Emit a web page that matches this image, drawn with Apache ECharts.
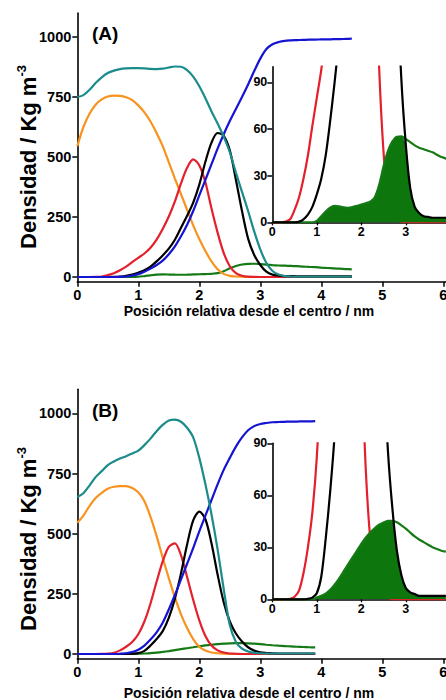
<!DOCTYPE html>
<html>
<head>
<meta charset="utf-8">
<script src="https://cdn.jsdelivr.net/npm/echarts@6/dist/echarts.min.js"></script>
<style>
  html, body { margin: 0; padding: 0; overflow: hidden; background: #ffffff; }
  #chart { width: 520px; height: 700px; }
</style>
</head>
<body>
<div id="chart"></div>
<script>
// Density profiles (kg m^-3) against distance from the centre (nm)
// Panel (A)
const xA = [0.0, 0.1, 0.2, 0.3, 0.4, 0.5, 0.6, 0.7, 0.8, 0.9,
            1.0, 1.1, 1.2, 1.3, 1.4, 1.5, 1.6, 1.7, 1.8, 1.9,
            2.0, 2.1, 2.2, 2.3, 2.4, 2.5, 2.6, 2.7, 2.8, 2.9,
            3.0, 3.1, 3.2, 3.3, 3.4, 3.5, 3.6, 3.7, 3.8, 3.9,
            4.0, 4.1, 4.2, 4.3, 4.4, 4.5];
const tealA = [750, 758, 780, 808, 832, 850, 860, 866, 869, 870,
               870, 869, 867, 866, 868, 873, 877, 876, 862, 835,
               795, 745, 690, 640, 585, 520, 435, 355, 275, 190,
               115, 58, 25, 10, 4, 2, 1, 1, 1, 1,
               1, 1, 1, 1, 1, 1];
const orangeA = [545, 625, 680, 718, 740, 752, 756, 755, 749, 737,
                 715, 686, 648, 600, 545, 478, 410, 345, 280, 215,
                 158, 108, 65, 32, 13, 5, 2, 1, 0, 0,
                 0, 0, 0, 0, 0, 0, 0, 0, 0, 0,
                 0, 0, 0, 0, 0, 0];
const redA = [0, 0, 0, 0.5, 2, 8, 16, 28, 43, 62,
              80, 98, 122, 156, 200, 252, 315, 390, 455, 490,
              465, 395, 285, 185, 100, 45, 16, 5, 1.5, 0.5,
              0, 0, 0, 0, 0, 0, 0, 0, 0, 0,
              0, 0, 0, 0, 0, 0];
const blackA = [0, 0, 0, 0, 0, 0, 0.5, 2, 5, 10,
                18, 28, 43, 65, 90, 118, 155, 205, 255, 310,
                385, 480, 560, 600, 588, 528, 405, 275, 160, 92,
                50, 22, 10, 6, 4, 3.5, 3, 3, 3, 3,
                3, 3, 3, 3, 3, 3];
const blueA = [0, 0, 0, 0, 0, 0, 0, 0.5, 2, 6,
               12, 22, 35, 50, 68, 95, 128, 170, 218, 275,
               340, 405, 470, 535, 595, 650, 700, 750, 802, 858,
               910, 950, 970, 979, 984, 986, 987, 988, 989, 989,
               990, 990, 991, 991, 992, 993];
const greenA = [0, 0, 0, 0, 0, 0, 0, 0, 0, 0,
                1, 4, 7, 9.5, 10.7, 10.3, 9.6, 9.4, 9.8, 10.6,
                11.5, 12.3, 13.3, 16, 24, 36, 46, 52, 55, 55.2,
                53.5, 51.5, 49.5, 48, 47, 46, 45, 43.5, 42, 41,
                39, 37.5, 36, 34.5, 33, 32];

// Panel (B)
const xB = [0.0, 0.1, 0.2, 0.3, 0.4, 0.5, 0.6, 0.7, 0.8, 0.9,
            1.0, 1.1, 1.2, 1.3, 1.4, 1.5, 1.6, 1.7, 1.8, 1.9,
            2.0, 2.1, 2.2, 2.3, 2.4, 2.5, 2.6, 2.7, 2.8, 2.9,
            3.0, 3.1, 3.2, 3.3, 3.4, 3.5, 3.6, 3.7, 3.8, 3.9];
const tealB = [652, 668, 700, 735, 760, 785, 800, 812, 822, 833,
               845, 868, 895, 926, 952, 970, 974, 965, 940, 900,
               815, 705, 580, 435, 270, 120, 50, 22, 10, 5,
               3, 2, 2, 2, 2, 2, 2, 2, 2, 2];
const orangeB = [545, 575, 615, 648, 670, 687, 695, 698, 698, 690,
                 672, 635, 570, 490, 400, 315, 235, 165, 108, 62,
                 30, 14, 6, 3, 1, 0, 0, 0, 0, 0,
                 0, 0, 0, 0, 0, 0, 0, 0, 0, 0];
const redB = [0, 0, 0, 0, 0.3, 1.5, 5, 15, 30, 50,
              82, 135, 210, 300, 385, 445, 460, 410, 320, 225,
              140, 75, 35, 15, 6, 2, 1, 0, 0, 0,
              0, 0, 0, 0, 0, 0, 0, 0, 0, 0];
const blackB = [0, 0, 0, 0, 0, 0, 0, 0, 0.3, 1,
                3.5, 13, 35, 62, 95, 150, 230, 335, 455, 555,
                592, 560, 460, 330, 215, 135, 85, 52, 28, 14,
                6.5, 4, 3, 2, 2, 2, 2, 2, 2, 2];
const blueB = [0, 0, 0, 0, 0, 0, 0, 1, 3, 8,
               18, 35, 60, 90, 130, 185, 245, 310, 375, 440,
               510, 575, 640, 705, 765, 815, 862, 900, 930, 947,
               956, 960, 963, 964, 965, 966, 966, 967, 967, 968];
const greenB = [0, 0, 0, 0, 0, 0, 0, 0, 0, 0,
                1, 2, 3.3, 5.5, 8.5, 12, 16, 20, 24, 28,
                32, 35.5, 38.5, 41, 43, 44.3, 45.2, 45.3, 44.5, 42.7,
                40.8, 38.5, 36.3, 34.5, 33, 31.5, 30, 29, 28, 27.5];

// Axis ticks and labels
const mainYTicks = [0, 250, 500, 750, 1000];
const insetYTicks = [0, 30, 60, 90];
const insetXTicks = [0, 1, 2, 3];
const xTitle = 'Posición relativa desde el centro / nm';
const yTitle = 'Densidad / Kg m';
const yTitleSup = '-3';
const panelTags = ['(A)', '(B)'];

const C = {
  teal: '#1b8b8b', orange: '#f7931e', red: '#e3202b',
  black: '#000000', blue: '#1414d2', green: '#157a15', fill: '#0d770d'
};
const F = '"Liberation Sans", Arial, sans-serif';
const plain = v => String(v);

function pairs(xs, ys) { return xs.map((x, i) => [x, ys[i]]); }
function overlap(xs, a, b) { return xs.map((x, i) => [x, Math.min(a[i], b[i])]); }

function line(name, xs, ys, color, idx, z) {
  return {
    name: name, type: 'line', data: pairs(xs, ys),
    xAxisIndex: idx, yAxisIndex: idx,
    showSymbol: false, smooth: 0.3, clip: true, silent: true, z: z,
    lineStyle: { color: color, width: 2.2 }, itemStyle: { color: color }
  };
}
function fillArea(xs, a, b, idx) {
  return {
    type: 'line', data: overlap(xs, a, b), xAxisIndex: idx, yAxisIndex: idx,
    showSymbol: false, smooth: 0.3, clip: true, silent: true, z: 2,
    lineStyle: { width: 0 }, areaStyle: { color: C.fill, opacity: 1 }
  };
}

const axisLineStyle = { show: true, onZero: false, lineStyle: { color: '#000', width: 1.6 } };

function mainX(gi) {
  return {
    type: 'value', gridIndex: gi, min: 0, max: 7, interval: 1,
    axisLine: axisLineStyle, splitLine: { show: false },
    axisTick: { show: true, inside: false, length: 5, lineStyle: { color: '#000', width: 1.5 } },
    axisLabel: { margin: 6, formatter: plain, color: '#000', fontFamily: F, fontWeight: 'bold', fontSize: 14.5 }
  };
}
function mainY(gi) {
  return {
    type: 'value', gridIndex: gi, min: -20, max: 1100,
    axisLine: axisLineStyle, splitLine: { show: false },
    axisTick: { show: true, inside: false, length: 5, customValues: mainYTicks, lineStyle: { color: '#000', width: 1.5 } },
    axisLabel: { margin: 6, customValues: mainYTicks, formatter: plain, color: '#000', fontFamily: F, fontWeight: 'bold', fontSize: 14.5 }
  };
}
function insetX(gi) {
  return {
    type: 'value', gridIndex: gi, min: 0, max: 4,
    axisLine: axisLineStyle, splitLine: { show: false },
    axisTick: { show: true, inside: false, length: 3, customValues: insetXTicks, lineStyle: { color: '#000', width: 1.3 } },
    axisLabel: { margin: 3, customValues: insetXTicks, formatter: plain, color: '#000', fontFamily: F, fontWeight: 'bold', fontSize: 12.5 }
  };
}
function insetY(gi, max) {
  return {
    type: 'value', gridIndex: gi, min: 0, max: max,
    axisLine: axisLineStyle, splitLine: { show: false },
    axisTick: { show: true, inside: false, length: 5, customValues: insetYTicks, lineStyle: { color: '#000', width: 1.5 } },
    axisLabel: { margin: 5, customValues: insetYTicks, formatter: plain, color: '#000', fontFamily: F, fontWeight: 'bold', fontSize: 12.5 }
  };
}

function yName(cy) {
  return {
    type: 'text', x: 28, y: cy, rotation: Math.PI / 2, silent: true,
    style: {
      text: '{a|' + yTitle + '}{b|' + yTitleSup + '}',
      align: 'center', verticalAlign: 'middle',
      rich: {
        a: { fontFamily: F, fontWeight: 'bold', fontSize: 22, lineHeight: 26, fill: '#000' },
        b: { fontFamily: F, fontWeight: 'bold', fontSize: 13, lineHeight: 14, fill: '#000', verticalAlign: 'top' }
      }
    }
  };
}
function xName(cy) {
  return {
    type: 'text', x: 249, y: cy, silent: true,
    style: { text: xTitle, align: 'center', verticalAlign: 'middle',
             fontFamily: F, fontWeight: 'bold', fontSize: 14, fill: '#000' }
  };
}
function tag(text, cy) {
  return {
    type: 'text', x: 92, y: cy, silent: true,
    style: { text: text, align: 'left', verticalAlign: 'middle',
             fontFamily: F, fontWeight: 'bold', fontSize: 19, fill: '#000' }
  };
}

const chart = echarts.init(document.getElementById('chart'), null, { renderer: 'svg' });
chart.setOption({
  animation: false,
  backgroundColor: '#ffffff',
  grid: [
    { left: 77.3, top: 13, width: 427, height: 268.8, outerBoundsMode: 'none' },
    { left: 272.3, top: 66.7, width: 178, height: 155.7, outerBoundsMode: 'none' },
    { left: 77.3, top: 389.3, width: 427, height: 269.5, outerBoundsMode: 'none' },
    { left: 272.3, top: 443.3, width: 178, height: 156, outerBoundsMode: 'none' }
  ],
  xAxis: [mainX(0), insetX(1), mainX(2), insetX(3)],
  yAxis: [mainY(0), insetY(1, 100), mainY(2), insetY(3, 90)],
  graphic: [
    tag(panelTags[0], 33), tag(panelTags[1], 410),
    yName(157), yName(539),
    xName(311), xName(692.5)
  ],
  series: [
    // panel A
    line('green', xA, greenA, C.green, 0, 2),
    line('orange', xA, orangeA, C.orange, 0, 3),
    line('red', xA, redA, C.red, 0, 4),
    line('black', xA, blackA, C.black, 0, 5),
    line('blue', xA, blueA, C.blue, 0, 6),
    line('teal', xA, tealA, C.teal, 0, 7),
    // inset A
    line('red', xA, redA, C.red, 1, 1),
    fillArea(xA, greenA, blackA, 1),
    line('green', xA, greenA, C.green, 1, 3),
    line('black', xA, blackA, C.black, 1, 4),
    // panel B
    line('green', xB, greenB, C.green, 2, 2),
    line('orange', xB, orangeB, C.orange, 2, 3),
    line('red', xB, redB, C.red, 2, 4),
    line('black', xB, blackB, C.black, 2, 5),
    line('blue', xB, blueB, C.blue, 2, 6),
    line('teal', xB, tealB, C.teal, 2, 7),
    // inset B
    line('red', xB, redB, C.red, 3, 1),
    fillArea(xB, greenB, blackB, 3),
    line('green', xB, greenB, C.green, 3, 3),
    line('black', xB, blackB, C.black, 3, 4)
  ]
});
</script>
</body>
</html>
